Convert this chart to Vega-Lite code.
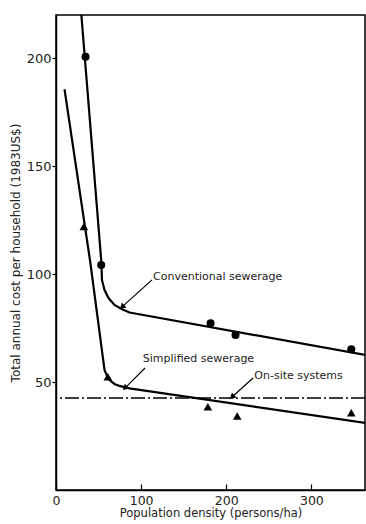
{
  "$schema": "https://vega.github.io/schema/vega-lite/v6.json",
  "width": 309,
  "height": 475,
  "autosize": {"type": "none"},
  "padding": {"left": 56, "top": 15, "right": 1, "bottom": 34},
  "background": "white",
  "config": {
    "view": {"stroke": "black", "strokeWidth": 1.5},
    "font": "DejaVu Sans",
    "axis": {"grid": false, "domainColor": "black", "domainWidth": 1.5, "tickColor": "black", "tickWidth": 1.2, "labelColor": "#222", "titleColor": "#222", "labelFont": "DejaVu Sans", "titleFont": "DejaVu Sans", "titleFontWeight": "normal"}
  },
  "datasets": {
    "conv_curve": [
      {"x": 29.8, "y": 220}, {"x": 53.3, "y": 105.5}, {"x": 54, "y": 97.3}, {"x": 57, "y": 92.6},
      {"x": 61.7, "y": 88.9}, {"x": 68.7, "y": 85.7}, {"x": 77, "y": 83.8}, {"x": 86.4, "y": 82.2},
      {"x": 363.7, "y": 62.5}
    ],
    "simp_curve": [
      {"x": 10, "y": 185.6}, {"x": 40.2, "y": 105.7}, {"x": 57, "y": 55.6}, {"x": 60.5, "y": 52.3},
      {"x": 62.9, "y": 50.9}, {"x": 68.7, "y": 49.1}, {"x": 74.6, "y": 48.2}, {"x": 86.4, "y": 47.1},
      {"x": 363.7, "y": 31}
    ],
    "conv_pts": [
      {"x": 34.7, "y": 200.7}, {"x": 53.1, "y": 104.2}, {"x": 181.6, "y": 77.2}, {"x": 210.9, "y": 71.8}, {"x": 346.9, "y": 65.2}
    ],
    "simp_pts": [
      {"x": 32.7, "y": 122}, {"x": 60.9, "y": 52.5}, {"x": 178.4, "y": 38.6}, {"x": 212.9, "y": 34.3}, {"x": 346.9, "y": 35.8}
    ],
    "onsite": [{"y": 42.6}],
    "labels": [
      {"x": 114, "y": 98.6, "text": "Conventional sewerage"},
      {"x": 102, "y": 60.7, "text": "Simplified sewerage"},
      {"x": 233, "y": 52.8, "text": "On-site systems"}
    ],
    "arrows": [
      {"sx": 112.8, "sy": 97.3, "tx": 77.6, "ty": 84.8},
      {"sx": 104.6, "sy": 56.5, "tx": 81, "ty": 47.2},
      {"sx": 231.5, "sy": 51.9, "tx": 206.8, "ty": 43.1}
    ]
  },
  "layer": [
    {
      "data": {"name": "conv_curve"},
      "mark": {"type": "line", "color": "black", "strokeWidth": 2.2, "clip": true},
      "encoding": {
        "x": {"field": "x", "type": "quantitative", "scale": {"domain": [0, 363], "nice": false, "zero": false},
          "axis": {"values": [0, 100, 200, 300], "title": "Population density (persons/ha)", "tickSize": -6, "labelPadding": 10, "labelFontSize": 12.5, "titleFontSize": 11.5, "titlePadding": 1, "labelFlush": false}},
        "y": {"field": "y", "type": "quantitative", "scale": {"domain": [0, 220], "nice": false},
          "axis": {"values": [50, 100, 150, 200], "title": "Total annual cost per household (1983US$)", "tickSize": 4, "labelPadding": 1, "labelFontSize": 13, "titleFontSize": 12, "titlePadding": 4}}
      }
    },
    {
      "data": {"name": "simp_curve"},
      "mark": {"type": "line", "color": "black", "strokeWidth": 2.2, "clip": true},
      "encoding": {
        "x": {"field": "x", "type": "quantitative"},
        "y": {"field": "y", "type": "quantitative"}
      }
    },
    {
      "data": {"name": "onsite"},
      "mark": {"type": "rule", "color": "black", "strokeWidth": 1.5, "strokeDash": [14, 3, 2, 3]},
      "encoding": {"y": {"field": "y", "type": "quantitative"}}
    },
    {
      "data": {"name": "conv_pts"},
      "mark": {"type": "point", "shape": "circle", "filled": true, "color": "black", "size": 65, "opacity": 1},
      "encoding": {
        "x": {"field": "x", "type": "quantitative"},
        "y": {"field": "y", "type": "quantitative"}
      }
    },
    {
      "data": {"name": "simp_pts"},
      "mark": {"type": "point", "shape": "triangle-up", "filled": true, "color": "black", "size": 75, "opacity": 1},
      "encoding": {
        "x": {"field": "x", "type": "quantitative"},
        "y": {"field": "y", "type": "quantitative"}
      }
    },
    {
      "data": {"name": "arrows"},
      "mark": {"type": "rule", "color": "black", "strokeWidth": 1.2},
      "encoding": {
        "x": {"field": "sx", "type": "quantitative"},
        "y": {"field": "sy", "type": "quantitative"},
        "x2": {"field": "tx"},
        "y2": {"field": "ty"}
      }
    },
    {
      "data": {"name": "arrows"},
      "mark": {"type": "point", "shape": "triangle-up", "filled": true, "color": "black", "size": 45, "opacity": 1, "angle": 227},
      "encoding": {
        "x": {"field": "tx", "type": "quantitative"},
        "y": {"field": "ty", "type": "quantitative"}
      }
    },
    {
      "data": {"name": "labels"},
      "mark": {"type": "text", "align": "left", "baseline": "middle", "fontSize": 11, "color": "#222", "font": "DejaVu Sans"},
      "encoding": {
        "x": {"field": "x", "type": "quantitative"},
        "y": {"field": "y", "type": "quantitative"},
        "text": {"field": "text"}
      }
    }
  ]
}
